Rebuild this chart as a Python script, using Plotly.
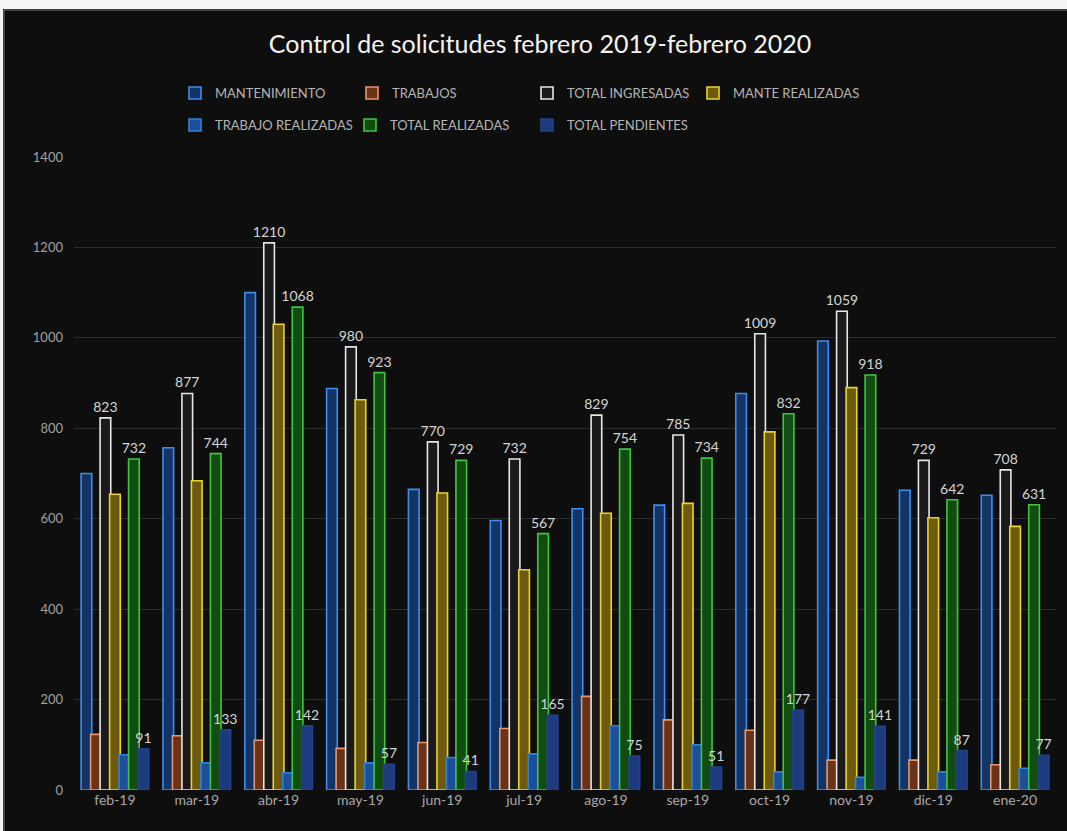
import plotly.graph_objects as go

W, H = 1067, 831
L, R, T, B = 74, 11, 157, 41

categories = ["feb-19", "mar-19", "abr-19", "may-19", "jun-19", "jul-19",
              "ago-19", "sep-19", "oct-19", "nov-19", "dic-19", "ene-20"]

mantenimiento = [700, 757, 1100, 888, 665, 596, 622, 630, 877, 993, 663, 652]
trabajos = [123, 120, 110, 92, 105, 136, 207, 155, 132, 66, 66, 56]
total_ingresadas = [823, 877, 1210, 980, 770, 732, 829, 785, 1009, 1059, 729, 708]
mante_realizadas = [654, 684, 1030, 863, 657, 487, 612, 634, 792, 890, 602, 583]
trabajo_realizadas = [78, 60, 38, 60, 72, 80, 142, 100, 40, 28, 40, 48]
total_realizadas = [732, 744, 1068, 923, 729, 567, 754, 734, 832, 918, 642, 631]
total_pendientes = [91, 133, 142, 57, 41, 165, 75, 51, 177, 141, 87, 77]

series = [
    ("MANTENIMIENTO", mantenimiento, "#143466", "#3b8ef0", False),
    ("TRABAJOS", trabajos, "#6a3216", "#e8956a", False),
    ("TOTAL INGRESADAS", total_ingresadas, "#1a1a1a", "#e6e6e6", True),
    ("MANTE REALIZADAS", mante_realizadas, "#6e5a0e", "#e8d42c", False),
    ("TRABAJO REALIZADAS", trabajo_realizadas, "#1d4f99", "#2f82dc", False),
    ("TOTAL REALIZADAS", total_realizadas, "#124c12", "#3fc63f", True),
    ("TOTAL PENDIENTES", total_pendientes, "#1d3a7c", "#22428c", True),
]

# legend entry placement (pixel x where the text starts, pixel row y)
legend_pos = [(215, 93), (392, 93), (567, 93), (733, 93),
              (215, 125), (390, 125), (567, 125)]

step = 0.116
bw = 0.13
fig = go.Figure()
for i, (name, vals, fill, line, lab) in enumerate(series):
    center = (i - 3) * step
    fig.add_trace(go.Bar(
        name=name, x=categories, y=vals,
        offset=center - bw / 2, width=bw,
        marker=dict(color=fill, line=dict(color=line, width=1.6)),
        text=[str(v) for v in vals] if lab else None,
        textposition="outside" if lab else "none",
        textfont=dict(color="#d4d4d4", size=14, family="Lato"),
        constraintext="none",
        cliponaxis=False,
        showlegend=True,
        legend="legend" if i == 0 else f"legend{i + 1}",
    ))

def px_x(p):
    return (p - L) / (W - L - R)

def px_y(p):
    return (H - B - p) / (H - T - B)

legends = {}
for i, (sx, sy) in enumerate(legend_pos):
    key = "legend" if i == 0 else f"legend{i + 1}"
    legends[key] = dict(orientation="h", xanchor="left", yanchor="middle",
                        x=px_x(sx - 40), y=px_y(sy), itemwidth=30,
                        bgcolor="rgba(0,0,0,0)",
                        font=dict(size=13, color="#b4b4b4", family="Lato"))

fig.update_layout(
    width=W, height=H,
    margin=dict(l=L, r=R, t=T, b=B),
    barmode="overlay",
    showlegend=True,
    paper_bgcolor="#0e0e0e",
    plot_bgcolor="#0e0e0e",
    font=dict(family="Lato", color="#a8a8a8"),
    title=dict(text="Control de solicitudes febrero 2019-febrero 2020",
               x=540 / W, xanchor="center", y=1 - 44 / H, yanchor="middle",
               font=dict(size=25, color="#f4f4f4", family="Lato")),
    xaxis=dict(showgrid=False, showline=False, zeroline=False,
               tickfont=dict(size=14, color="#a8a8a8"), ticks=""),
    yaxis=dict(range=[0, 1400], dtick=200, gridcolor="#2c2c2c", gridwidth=1,
               zeroline=False, showline=False,
               tickfont=dict(size=13, color="#a0a0a0"), ticklabelstandoff=10),
    shapes=[
        dict(type="rect", xref="paper", yref="paper", x0=px_x(0), x1=px_x(W),
             y0=px_y(0), y1=px_y(9), fillcolor="#f4f4f4", line=dict(width=0), layer="above"),
        dict(type="rect", xref="paper", yref="paper", x0=px_x(0), x1=px_x(3),
             y0=px_y(0), y1=px_y(H), fillcolor="#f4f4f4", line=dict(width=0), layer="above"),
        dict(type="line", xref="paper", yref="paper", x0=px_x(4), x1=px_x(W),
             y0=px_y(10), y1=px_y(10), line=dict(color="#777777", width=1), layer="above"),
        dict(type="line", xref="paper", yref="paper", x0=px_x(4), x1=px_x(4),
             y0=px_y(10), y1=px_y(H), line=dict(color="#777777", width=1), layer="above"),
    ],
    **legends,
)

fig.write_html("out.html")
